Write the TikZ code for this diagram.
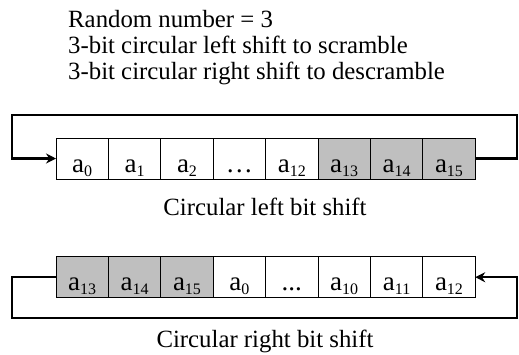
\documentclass[tikz,border=0pt]{standalone}
\usepackage{fontspec}
\setmainfont{Liberation Serif}
\usetikzlibrary{arrows.meta,positioning}
\definecolor{cellgray}{RGB}{191,191,191}
\newcommand{\abit}[1]{a\raisebox{-4pt}{\fontsize{16}{17}\selectfont #1}}

\begin{document}
\begin{tikzpicture}[x=1pt,y=-1pt,>={Stealth[length=10pt,width=10pt]},
	font=\fontsize{24.8}{26}\selectfont,
	cell/.style={draw,line width=0.8pt,minimum width=52.4pt,minimum height=41pt,
		inner sep=0pt,outer sep=0pt,text height=30pt,text depth=3pt,
		font=\fontsize{27}{28}\selectfont},
	hot/.style={cell,fill=cellgray},
	loopline/.style={line width=2.4pt,line join=miter}]
			\useasboundingbox (0,0) rectangle (519,354);
			%Texte
			\node[anchor=base west,align=left,inner sep=0pt] (info) at (68,79)
				{Random number = 3\\3-bit circular left shift to scramble\\3-bit circular right shift to descramble};
			%Decalage a gauche
			\node[cell] (l0) at (82.2,158.5) {\abit{0}};
			\node[cell,right=0pt of l0] (l1) {\abit{1}};
			\node[cell,right=0pt of l1] (l2) {\abit{2}};
			\node[cell,right=0pt of l2] (l3) {\dots};
			\node[cell,right=0pt of l3] (l4) {\abit{12}};
			\node[hot,right=0pt of l4] (l5) {\abit{13}};
			\node[hot,right=0pt of l5] (l6) {\abit{14}};
			\node[hot,right=0pt of l6] (l7) {\abit{15}};
			\coordinate (ltop) at (12,115);
			\coordinate (rtop) at (517,115);
			\draw[loopline,->] (l7.east) -| (rtop) -- (ltop) |- (l0.west);
			\node[anchor=base] (capl) at (265,215) {Circular left bit shift};
			%Decalage a droite
			\node[hot] (r0) at (82.2,277.2) {\abit{13}};
			\node[hot,right=0pt of r0] (r1) {\abit{14}};
			\node[hot,right=0pt of r1] (r2) {\abit{15}};
			\node[cell,right=0pt of r2] (r3) {\abit{0}};
			\node[cell,right=0pt of r3] (r4) {...};
			\node[cell,right=0pt of r4] (r5) {\abit{10}};
			\node[cell,right=0pt of r5] (r6) {\abit{11}};
			\node[cell,right=0pt of r6] (r7) {\abit{12}};
			\coordinate (lbot) at (12,318);
			\coordinate (rbot) at (517,318);
			\draw[loopline,->] (r0.west) -| (lbot) -- (rbot) |- (r7.east);
			\node[anchor=base] (capr) at (265,347) {Circular right bit shift};
	\end{tikzpicture}
\end{document}
